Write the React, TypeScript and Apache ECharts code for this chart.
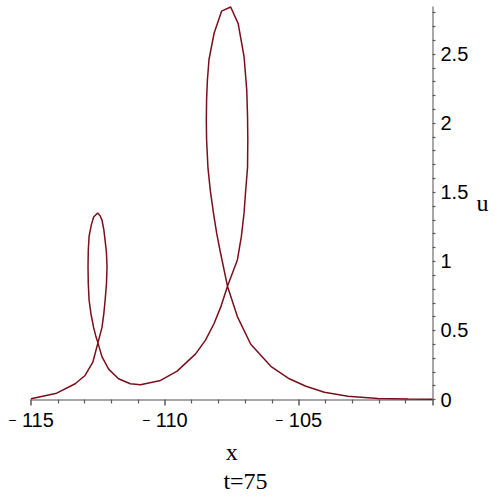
import React, { useEffect, useRef } from "react";
import * as echarts from "echarts";

// Parametric curve points (x, u) at t = 75
const xValues: number[] = [
  -115.0, -114.04, -113.35, -112.98, -112.69, -112.5, -112.35, -112.28, -112.23, -112.18,
  -112.16, -112.18, -112.23, -112.28, -112.35, -112.42, -112.51, -112.66, -112.75, -112.83,
  -112.86, -112.87, -112.86, -112.83, -112.76, -112.66, -112.58, -112.5, -112.35, -112.1,
  -111.73, -111.29, -110.91, -110.16, -109.54, -108.85, -108.48, -108.16, -107.91, -107.66,
  -107.29, -107.14, -107.04, -106.98, -106.91, -106.9, -106.91, -106.94, -107.04, -107.26,
  -107.54, -107.88, -108.16, -108.35, -108.41, -108.44, -108.45, -108.44, -108.39, -108.3,
  -108.16, -108.06, -107.94, -107.66, -107.29, -106.79, -106.04, -105.35, -104.73, -104.04,
  -103.16, -102.04, -100.91, -100.0,
];
const uValues: number[] = [
  0.005, 0.046, 0.114, 0.174, 0.27, 0.41, 0.52, 0.62, 0.72, 0.84,
  0.96, 1.06, 1.15, 1.23, 1.3, 1.33, 1.35, 1.32, 1.26, 1.18,
  1.08, 0.96, 0.84, 0.72, 0.62, 0.52, 0.46, 0.41, 0.31, 0.22,
  0.15, 0.114, 0.107, 0.138, 0.205, 0.33, 0.43, 0.55, 0.67, 0.82,
  1.01, 1.18, 1.35, 1.51, 1.68, 1.88, 2.05, 2.24, 2.48, 2.72,
  2.84, 2.81, 2.65, 2.46, 2.31, 2.17, 2.02, 1.88, 1.68, 1.51,
  1.32, 1.2, 1.08, 0.82, 0.6, 0.4, 0.24, 0.15, 0.096, 0.053,
  0.024, 0.007, 0.003, 0.001,
];

const yTickValues: number[] = [
  0, 0.1, 0.2, 0.3, 0.4, 0.5, 0.6, 0.7, 0.8, 0.9, 1.0, 1.1, 1.2, 1.3, 1.4,
  1.5, 1.6, 1.7, 1.8, 1.9, 2.0, 2.1, 2.2, 2.3, 2.4, 2.5, 2.6, 2.7, 2.8,
];
const yLabelValues: number[] = [0, 0.5, 1, 1.5, 2, 2.5];

const xTitle = "x";
const yTitle = "u";
const caption = "t=75";

export default function App() {
  const ref = useRef<HTMLDivElement>(null);

  useEffect(() => {
    if (!ref.current) return;
    const chart = echarts.init(ref.current, undefined, { renderer: "svg" });
    const axisGray = "#8a8a8a";
    const tickGray = "#5a5a5a";
    const sans = "'Liberation Sans', Arial, sans-serif";
    const serif = "'Liberation Serif', 'Times New Roman', serif";
    chart.setOption({
      animation: false,
      backgroundColor: "#ffffff",
      grid: { left: 31, right: 67.5, top: 7, bottom: 100.5, containLabel: false },
      xAxis: {
        type: "value",
        min: -115,
        max: -100,
        interval: 5,
        position: "bottom",
        name: xTitle,
        nameLocation: "middle",
        nameGap: 40,
        nameTextStyle: { fontFamily: serif, fontSize: 24, color: "#000" },
        axisLine: { onZero: false, lineStyle: { color: axisGray, width: 1.5 } },
        axisTick: { length: 6, lineStyle: { color: tickGray, width: 1.5 } },
        minorTick: { show: true, splitNumber: 5, length: 4, lineStyle: { color: tickGray, width: 1.2 } },
        splitLine: { show: false },
        minorSplitLine: { show: false },
        axisLabel: {
          margin: 10,
          showMaxLabel: false,
          fontFamily: sans,
          fontSize: 20,
          color: "#000",
          formatter: (v: number) => (v < 0 ? "{m|\u2212} " + Math.abs(v) : String(v)),
          rich: { m: { fontFamily: sans, fontSize: 14, color: "#000" } },
        },
      },
      yAxis: {
        type: "value",
        min: 0,
        max: 2.84,
        interval: 0.5,
        position: "right",
        name: yTitle,
        nameLocation: "middle",
        nameRotate: 0,
        nameGap: 44,
        nameTextStyle: { fontFamily: serif, fontSize: 24, color: "#000", align: "left" },
        axisLine: { onZero: false, lineStyle: { color: axisGray, width: 1.5 } },
        axisTick: { customValues: yTickValues, length: 3, lineStyle: { color: tickGray, width: 1.2 } },
        splitLine: { show: false },
        axisLabel: {
          customValues: yLabelValues,
          margin: 8,
          fontFamily: sans,
          fontSize: 20,
          color: "#000",
        },
      },
      series: [
        {
          type: "line",
          data: xValues.map((x, i) => [x, uValues[i]]),
          symbol: "none",
          showSymbol: false,
          smooth: false,
          clip: false,
          lineStyle: { color: "#7a0f1c", width: 1.5 },
        },
      ],
      graphic: [
        {
          type: "text",
          x: 245.5,
          y: 481,
          style: {
            text: caption,
            fontFamily: serif,
            fontSize: 24,
            fill: "#000",
            align: "center",
            verticalAlign: "middle",
          },
        },
      ],
    });
    return () => chart.dispose();
  }, []);

  return (
    <div
      ref={ref}
      style={{ position: "absolute", left: 0, top: 0, width: 500, height: 500 }}
    />
  );
}
